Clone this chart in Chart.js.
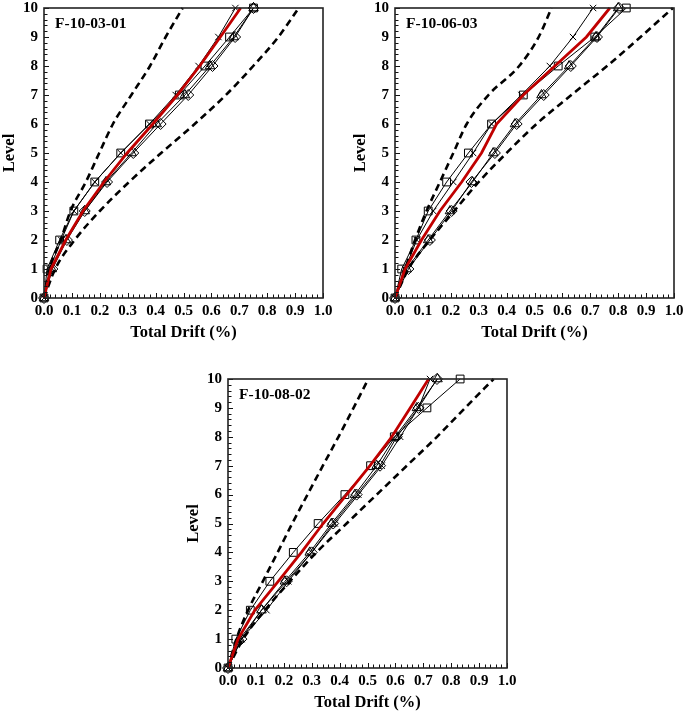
<!DOCTYPE html>
<html>
<head>
<meta charset="utf-8">
<script src="https://cdn.jsdelivr.net/npm/chart.js@4/dist/chart.umd.min.js"></script>
<style>
  html, body { margin: 0; padding: 0; background: #fff; overflow: hidden; width: 685px; height: 715px; }
  canvas { position: absolute; }
</style>
</head>
<body>
<canvas id="c1" width="340" height="345" style="left:0px;top:0px;width:340px;height:345px"></canvas>
<canvas id="c2" width="334" height="345" style="left:351px;top:0px;width:334px;height:345px"></canvas>
<canvas id="c3" width="340" height="344" style="left:184px;top:371px;width:340px;height:344px"></canvas>
<script>
// ---- data ----
const levels = [0, 1, 2, 3, 4, 5, 6, 7, 8, 9, 10];
const panelNames = ["F-10-03-01", "F-10-06-03", "F-10-08-02"];
const xTickLabels = ["0.0","0.1","0.2","0.3","0.4","0.5","0.6","0.7","0.8","0.9","1.0"];
const yTickLabels = ["0","1","2","3","4","5","6","7","8","9","10"];
const xTitle = "Total Drift (%)";
const yTitle = "Level";

// Panel 1: F-10-03-01
const p1Cross    = [0, 0.020, 0.062, 0.107, 0.182, 0.275, 0.378, 0.472, 0.554, 0.625, 0.686];
const p1Square   = [0, 0.011, 0.056, 0.107, 0.182, 0.275, 0.378, 0.485, 0.577, 0.665, 0.751];
const p1Diamond  = [0, 0.030, 0.082, 0.146, 0.226, 0.320, 0.418, 0.517, 0.604, 0.685, 0.751];
const p1Triangle = [0, 0.028, 0.078, 0.146, 0.222, 0.314, 0.404, 0.505, 0.595, 0.680, 0.751];
const p1Mean     = [0, 0.025, 0.078, 0.140, 0.215, 0.298, 0.390, 0.478, 0.558, 0.632, 0.705];
const p1Lower    = [0, 0.020, 0.060, 0.095, 0.150, 0.198, 0.247, 0.313, 0.380, 0.436, 0.497];
const p1Upper    = [0, 0.040, 0.110, 0.200, 0.305, 0.420, 0.540, 0.652, 0.750, 0.840, 0.913];

// Panel 2: F-10-06-03
const p2Cross    = [0, 0.036, 0.078, 0.137, 0.209, 0.280, 0.346, 0.453, 0.555, 0.638, 0.710];
const p2Square   = [0, 0.024, 0.075, 0.119, 0.185, 0.263, 0.346, 0.460, 0.585, 0.716, 0.829];
const p2Diamond  = [0, 0.048, 0.125, 0.203, 0.274, 0.358, 0.436, 0.533, 0.630, 0.724, 0.803];
const p2Triangle = [0, 0.042, 0.119, 0.197, 0.278, 0.352, 0.430, 0.525, 0.624, 0.720, 0.800];
const p2Mean     = [0, 0.036, 0.095, 0.161, 0.239, 0.310, 0.364, 0.460, 0.573, 0.686, 0.770];
const p2Lower    = [0, 0.036, 0.072, 0.113, 0.161, 0.209, 0.257, 0.335, 0.445, 0.515, 0.561];
const p2Upper    = [0, 0.048, 0.125, 0.212, 0.300, 0.400, 0.507, 0.632, 0.760, 0.880, 0.996];

// Panel 3: F-10-08-02
const p3Cross    = [0, 0.048, 0.138, 0.216, 0.300, 0.383, 0.467, 0.551, 0.617, 0.683, 0.724];
const p3Square   = [0, 0.028, 0.080, 0.150, 0.234, 0.323, 0.419, 0.511, 0.596, 0.713, 0.832];
const p3Diamond  = [0, 0.048, 0.120, 0.210, 0.300, 0.377, 0.461, 0.545, 0.605, 0.683, 0.749];
const p3Triangle = [0, 0.042, 0.120, 0.204, 0.293, 0.371, 0.455, 0.533, 0.599, 0.677, 0.751];
const p3Mean     = [0, 0.036, 0.096, 0.180, 0.263, 0.341, 0.425, 0.509, 0.587, 0.653, 0.719];
const p3Lower    = [0, 0.030, 0.072, 0.125, 0.178, 0.230, 0.285, 0.340, 0.396, 0.450, 0.503];
const p3Upper    = [0, 0.054, 0.132, 0.222, 0.317, 0.425, 0.533, 0.641, 0.749, 0.850, 0.952];

// ---- helpers ----
const SERIF = "'Liberation Serif', 'Times New Roman', serif";
const toPts = xs => xs.map((x, i) => ({ x: x, y: levels[i] }));

function thin(xs, style) {
  return {
    data: toPts(xs), showLine: true, borderColor: '#000', borderWidth: 1,
    pointStyle: style, pointRadius: style === 'crossRot' ? 4.5 : 5.5,
    pointBorderColor: '#000', pointBackgroundColor: 'rgba(255,255,255,0)',
    pointBorderWidth: 1, clip: false, order: 2
  };
}
function dashed(xs) {
  return {
    data: toPts(xs), showLine: true, borderColor: '#000', borderWidth: 2.6,
    borderDash: [7, 4.5], pointRadius: 0, cubicInterpolationMode: 'monotone', clip: false, order: 1
  };
}
function mean(xs) {
  return {
    data: toPts(xs), showLine: true, borderColor: '#c00000', borderWidth: 2.8,
    pointRadius: 0, clip: false, order: 0
  };
}

const framePlugin = {
  id: 'frame',
  afterDraw(chart, args, opts) {
    const ctx = chart.ctx, a = chart.chartArea;
    const xs = chart.scales.x, ys = chart.scales.y;
    ctx.save();
    ctx.strokeStyle = '#111';
    ctx.lineWidth = 1;
    ctx.beginPath();
    for (let k = 0; k <= 50; k++) {
      const px = Math.round(xs.getPixelForValue(k / 50)) + 0.5;
      const len = (k % 5 === 0) ? 5 : 3.5;
      ctx.moveTo(px, a.bottom);
      ctx.lineTo(px, a.bottom - len);
    }
    for (let k = 0; k <= 50; k++) {
      const py = Math.round(ys.getPixelForValue(k / 5)) + 0.5;
      const len = (k % 5 === 0) ? 5 : 3.5;
      ctx.moveTo(a.left, py);
      ctx.lineTo(a.left + len, py);
    }
    ctx.stroke();
    ctx.lineWidth = 1.6;
    ctx.strokeStyle = '#222';
    ctx.strokeRect(a.left, a.top, a.right - a.left, a.bottom - a.top);
    ctx.fillStyle = '#000';
    ctx.font = 'bold 15.5px ' + SERIF;
    ctx.textBaseline = 'middle';
    ctx.textAlign = 'left';
    ctx.fillText(opts.label, a.left + 11, a.top + 16);
    ctx.restore();
  }
};

function makeChart(id, name, series) {
  const datasets = [
    mean(series.mean),
    dashed(series.lower), dashed(series.upper),
    thin(series.cross, 'crossRot'), thin(series.square, 'rect'),
    thin(series.diamond, 'rectRot'), thin(series.triangle, 'triangle')
  ];
  const tickFont = { family: SERIF, size: 15, weight: 'bold' };
  const titleFont = { family: SERIF, size: 16.5, weight: 'bold' };
  return new Chart(document.getElementById(id), {
    type: 'scatter',
    data: { datasets: datasets },
    plugins: [framePlugin],
    options: {
      responsive: false, animation: false, devicePixelRatio: 1,
      layout: { padding: { top: 8, right: id === 'c2' ? 11 : 17, left: 0, bottom: 0 } },
      plugins: { legend: { display: false }, tooltip: { enabled: false }, frame: { label: name } },
      scales: {
        x: {
          type: 'linear', min: 0, max: 1,
          afterFit: s => { s.height = 47; s.paddingLeft = 0; s.paddingRight = 0; },
          afterBuildTicks: s => { s.ticks = xTickLabels.map(t => ({ value: parseFloat(t) })); },
          ticks: { color: '#000', font: tickFont, padding: 4, maxRotation: 0, autoSkip: false,
                   callback: (v, i) => xTickLabels[i] },
          grid: { display: false, drawTicks: false }, border: { display: false },
          title: { display: true, text: xTitle, color: '#000', font: titleFont, padding: { top: 0, bottom: 2 } }
        },
        y: {
          type: 'linear', min: 0, max: 10,
          afterFit: s => { s.width = 44; s.paddingTop = 0; s.paddingBottom = 0; },
          afterBuildTicks: s => { s.ticks = yTickLabels.map(t => ({ value: parseFloat(t) })); },
          ticks: { color: '#000', font: tickFont, padding: 6, autoSkip: false,
                   callback: (v, i) => yTickLabels[i] },
          grid: { display: false, drawTicks: false }, border: { display: false },
          title: { display: true, text: yTitle, color: '#000', font: titleFont, padding: { top: 0, bottom: 0 } }
        }
      }
    }
  });
}

makeChart('c1', panelNames[0], { cross: p1Cross, square: p1Square, diamond: p1Diamond, triangle: p1Triangle, mean: p1Mean, lower: p1Lower, upper: p1Upper });
makeChart('c2', panelNames[1], { cross: p2Cross, square: p2Square, diamond: p2Diamond, triangle: p2Triangle, mean: p2Mean, lower: p2Lower, upper: p2Upper });
makeChart('c3', panelNames[2], { cross: p3Cross, square: p3Square, diamond: p3Diamond, triangle: p3Triangle, mean: p3Mean, lower: p3Lower, upper: p3Upper });
</script>
</body>
</html>
